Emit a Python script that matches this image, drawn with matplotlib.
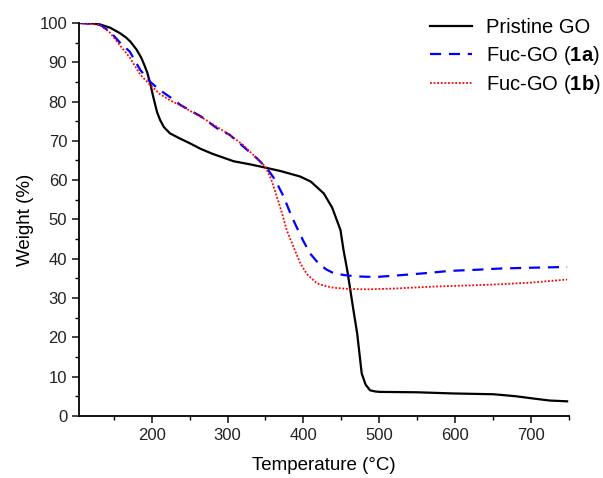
import matplotlib
matplotlib.use("Agg")
import matplotlib.pyplot as plt
from matplotlib.ticker import MultipleLocator

plt.rcParams['font.family'] = ['Liberation Sans', 'DejaVu Sans']
plt.rcParams['mathtext.fontset'] = 'custom'
plt.rcParams['mathtext.rm'] = 'Liberation Sans'
plt.rcParams['mathtext.bf'] = 'Liberation Sans:bold'

# Pristine GO
t_go = [104, 120, 132, 145, 158, 166, 172, 180, 186, 190, 194, 198, 201, 204, 207, 211, 216, 224, 237, 250, 264,
        280, 308, 330, 347, 370, 396, 410, 427, 438, 449, 453, 458, 462, 466, 471, 477, 482, 488, 495, 501,
        550, 598, 651, 680, 704, 725, 748]
w_go = [100, 99.9, 99.6, 98.8, 97.4, 96.3, 95.2, 93.2, 91.2, 89.4, 87.4, 84.6, 82.0, 79.6, 77.3, 75.3, 73.5, 71.9, 70.6,
        69.4, 68.0, 66.7, 64.8, 64.0, 63.3, 62.3, 60.9, 59.6, 56.6, 53.0, 47.3, 42.2, 37.0, 32.0, 27.0, 21.0, 10.8,
        8.0, 6.5, 6.2, 6.1, 6.0, 5.7, 5.5, 5.0, 4.4, 3.9, 3.7]

# Fuc-GO (1a)
t_1a = [104, 120, 132, 145, 158, 171, 185, 198, 210, 225, 238, 265, 286, 303, 339, 352, 363, 374, 384,
        391, 400, 409, 420, 430, 440, 455, 470, 484, 500, 528, 560, 594, 630, 660, 700, 748]
w_1a = [100, 99.8, 99.5, 97.8, 95.0, 92.7, 88.0, 85.0, 83.0, 81.0, 79.1, 76.2, 73.2, 71.5, 65.5, 63.0, 60.0, 55.8, 51.0,
        48.1, 44.5, 41.3, 38.8, 37.3, 36.3, 35.8, 35.5, 35.4, 35.4, 35.8, 36.3, 36.9, 37.2, 37.5, 37.7, 37.9]

# Fuc-GO (1b)
t_1b = [104, 120, 132, 145, 158, 171, 185, 198, 210, 225, 238, 270, 303, 320, 334, 350, 358, 365, 372,
        378, 387, 396, 405, 418, 430, 440, 460, 484, 520, 572, 620, 660, 700, 748]
w_1b = [100, 99.8, 99.4, 97.5, 94.3, 91.2, 86.8, 84.2, 82.0, 80.2, 79.0, 75.5, 71.5, 69.0, 66.4, 63.4, 60.0, 55.8, 51.5,
        47.3, 43.0, 38.8, 36.0, 33.7, 33.0, 32.6, 32.3, 32.2, 32.4, 32.9, 33.2, 33.5, 33.9, 34.7]

fig = plt.figure(figsize=(6.03, 4.78), dpi=100)
ax = fig.add_axes([0.131, 0.130, 0.812, 0.822])

ax.plot(t_go, w_go, color='black', lw=1.6, label='Pristine GO')
ax.plot(t_1a, w_1a, color='blue', lw=1.6, linestyle=(0, (5, 3.5)), label='Fuc-GO ($\\mathbf{1a}$)')
ax.plot(t_1b, w_1b, color='red', lw=1.3, linestyle=(0, (1, 1)), label='Fuc-GO ($\\mathbf{1b}$)')

ax.set_xlim(104, 750)
ax.set_ylim(0, 100)
ax.xaxis.set_major_locator(MultipleLocator(100))
ax.xaxis.set_minor_locator(MultipleLocator(50))
ax.yaxis.set_major_locator(MultipleLocator(10))
ax.yaxis.set_minor_locator(MultipleLocator(5))
ax.spines['top'].set_visible(False)
ax.spines['right'].set_visible(False)
ax.spines['left'].set_linewidth(1.3)
ax.spines['bottom'].set_linewidth(1.3)
ax.tick_params(which='major', direction='out', length=5, width=1.2, labelsize=12, colors='#222222')
ax.tick_params(which='minor', direction='out', length=3, width=1.0)

ax.set_xlabel('Temperature (°C)', fontsize=13.5, labelpad=10)
ax.set_ylabel('Weight (%)', fontsize=13.5, labelpad=4)

ax.legend(loc='upper left', frameon=False, fontsize=14.5, handlelength=2.1, handletextpad=0.7,
          borderpad=0, borderaxespad=0, labelspacing=0.33,
          bbox_to_anchor=(0.713, 0.962), bbox_transform=fig.transFigure)

fig.savefig('out.png', dpi=100)
